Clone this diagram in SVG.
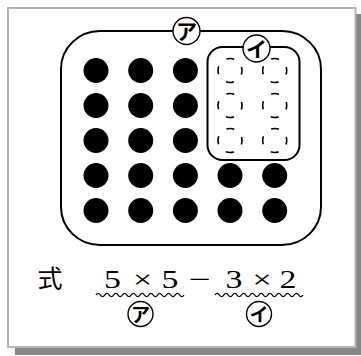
<svg xmlns="http://www.w3.org/2000/svg" width="361" height="356" viewBox="0 0 361 356">
<style>
.dot{fill:#000}
.dash{fill:none;stroke:#000;stroke-width:1.6;stroke-dasharray:8 10.85;stroke-dashoffset:4}
.box{fill:none;stroke:#000;stroke-width:2}
.ring{fill:#fff;stroke:#000;stroke-width:1.4}
.kana{font-family:"Noto Sans CJK JP",sans-serif;font-weight:700;text-anchor:middle;fill:#000}
.num{font-family:"Liberation Serif",serif;font-size:26px;text-anchor:middle;fill:#000}
.wave{fill:none;stroke:#000;stroke-width:1.3}
</style>
<g id="frame">
<rect x="15" y="14" width="346" height="341" fill="#868686"/>
<rect x="8" y="8" width="347.5" height="339" fill="#fff" stroke="#b4b4b4" stroke-width="2"/>
</g>
<g id="outer-group">
<rect class="box" x="61" y="31" width="260" height="214" rx="39" ry="38"/>
</g>
<g id="inner-group">
<rect class="box" x="207.5" y="47" width="92" height="113" rx="15" ry="15"/>
</g>
<g id="dots">
<circle class="dot" cx="96" cy="70.5" r="12.5"/>
<circle class="dot" cx="140.7" cy="70.5" r="12.5"/>
<circle class="dot" cx="185.4" cy="70.5" r="12.5"/>
<circle class="dot" cx="96" cy="105.5" r="12.5"/>
<circle class="dot" cx="140.7" cy="105.5" r="12.5"/>
<circle class="dot" cx="185.4" cy="105.5" r="12.5"/>
<circle class="dot" cx="96" cy="140.5" r="12.5"/>
<circle class="dot" cx="140.7" cy="140.5" r="12.5"/>
<circle class="dot" cx="185.4" cy="140.5" r="12.5"/>
<circle class="dot" cx="96" cy="175.5" r="12.5"/>
<circle class="dot" cx="140.7" cy="175.5" r="12.5"/>
<circle class="dot" cx="185.4" cy="175.5" r="12.5"/>
<circle class="dot" cx="230" cy="175.5" r="12.5"/>
<circle class="dot" cx="274.7" cy="175.5" r="12.5"/>
<circle class="dot" cx="96" cy="210.5" r="12.5"/>
<circle class="dot" cx="140.7" cy="210.5" r="12.5"/>
<circle class="dot" cx="185.4" cy="210.5" r="12.5"/>
<circle class="dot" cx="230" cy="210.5" r="12.5"/>
<circle class="dot" cx="274.7" cy="210.5" r="12.5"/>
</g>
<g id="dashed-dots">
<circle class="dash" cx="230" cy="70.5" r="12"/>
<circle class="dash" cx="274.7" cy="70.5" r="12"/>
<circle class="dash" cx="230" cy="105.5" r="12"/>
<circle class="dash" cx="274.7" cy="105.5" r="12"/>
<circle class="dash" cx="230" cy="140.5" r="12"/>
<circle class="dash" cx="274.7" cy="140.5" r="12"/>
</g>
<g id="label-a-top">
<circle class="ring" cx="186.5" cy="31" r="13.5"/>
<text class="kana" x="186.5" y="39" font-size="21">ア</text>
</g>
<g id="label-i-top">
<circle class="ring" cx="256.5" cy="48.5" r="13.5"/>
<text class="kana" x="256.5" y="56.5" font-size="21">イ</text>
</g>
<g id="formula">
<text x="50" y="288" font-family="'Noto Sans CJK JP',sans-serif" font-size="25" text-anchor="middle" fill="#000">式</text>
<text class="num" transform="translate(112.5,288) scale(1.3,1)">5</text>
<text class="num" transform="translate(142.5,288) scale(1.3,1)">×</text>
<text class="num" transform="translate(170,288) scale(1.3,1)">5</text>
<text class="num" transform="translate(200,288) scale(1.5,1)">−</text>
<text class="num" transform="translate(234,288) scale(1.3,1)">3</text>
<text class="num" transform="translate(262,288) scale(1.3,1)">×</text>
<text class="num" transform="translate(288,288) scale(1.3,1)">2</text>
<path class="wave" d="M96,295 q2.2,-3.4 4.4,0 t4.4,0 t4.4,0 t4.4,0 t4.4,0 t4.4,0 t4.4,0 t4.4,0 t4.4,0 t4.4,0 t4.4,0 t4.4,0 t4.4,0 t4.4,0 t4.4,0 t4.4,0 t4.4,0 t4.4,0 t4.4,0 t4.4,0"/>
<path class="wave" d="M215,295 q2.2,-3.4 4.4,0 t4.4,0 t4.4,0 t4.4,0 t4.4,0 t4.4,0 t4.4,0 t4.4,0 t4.4,0 t4.4,0 t4.4,0 t4.4,0 t4.4,0 t4.4,0 t4.4,0 t4.4,0 t4.4,0 t4.4,0 t4.4,0 t4.4,0"/>
</g>
<g id="label-a-bottom">
<circle class="ring" cx="140.5" cy="314" r="12.5"/>
<text class="kana" x="140.5" y="321.5" font-size="19">ア</text>
</g>
<g id="label-i-bottom">
<circle class="ring" cx="259" cy="314" r="12.5"/>
<text class="kana" x="259" y="321.5" font-size="19">イ</text>
</g>
</svg>
